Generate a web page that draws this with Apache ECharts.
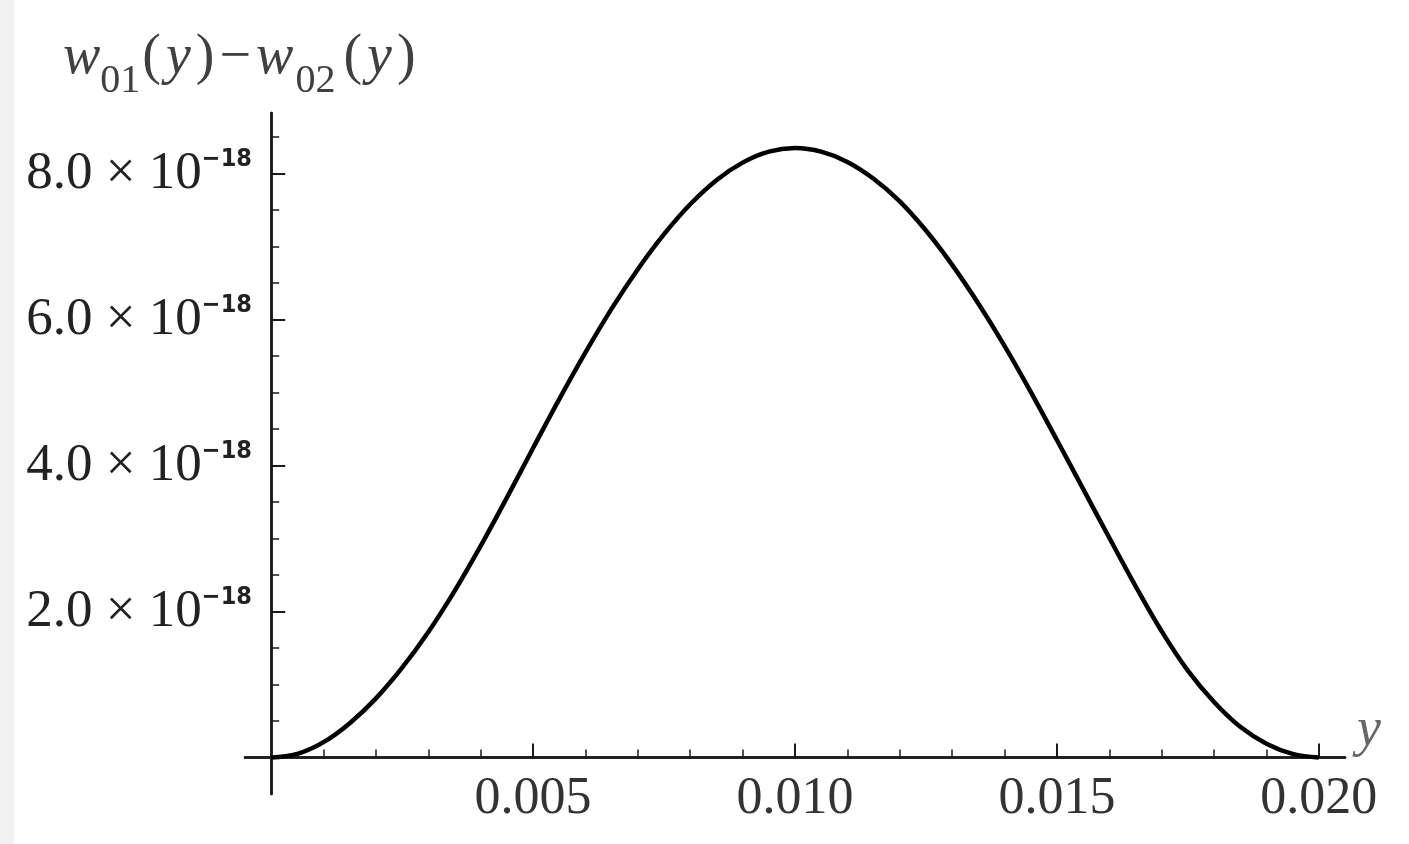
<!DOCTYPE html>
<html>
<head>
<meta charset="utf-8">
<script src="https://cdn.jsdelivr.net/npm/echarts@6/dist/echarts.min.js"></script>
<style>
  html, body { margin: 0; padding: 0; background: #ffffff; }
  #chart { width: 1409px; height: 844px; }
</style>
</head>
<body>
<div id="chart"></div>
<script>
// y values (abscissa) and w01(y) - w02(y) in units of 1e-18
const yArgs = [0, 0.0005, 0.001, 0.0015, 0.002, 0.0025, 0.003, 0.0035, 0.004, 0.0045,
  0.005, 0.0055, 0.006, 0.0065, 0.007, 0.0075, 0.008, 0.0085, 0.009, 0.0095,
  0.010, 0.0105, 0.011, 0.0115, 0.012, 0.0125, 0.013, 0.0135, 0.014, 0.0145,
  0.015, 0.0155, 0.016, 0.0165, 0.017, 0.0175, 0.018, 0.0185, 0.019, 0.0195, 0.020];
const wDiffE18 = [0, 0.05, 0.21, 0.47, 0.81, 1.23, 1.72, 2.28, 2.90, 3.56,
  4.24, 4.91, 5.55, 6.15, 6.69, 7.17, 7.58, 7.91, 8.15, 8.30,
  8.35, 8.30, 8.16, 7.93, 7.62, 7.22, 6.75, 6.22, 5.64, 5.01,
  4.35, 3.68, 3.01, 2.35, 1.73, 1.19, 0.76, 0.42, 0.19, 0.05, 0];

const xMajorTicks = [0.005, 0.010, 0.015, 0.020];
const xMinorTicks = [0.001, 0.002, 0.003, 0.004, 0.006, 0.007, 0.008, 0.009,
  0.011, 0.012, 0.013, 0.014, 0.016, 0.017, 0.018, 0.019];
const yMajorTicks = [2, 4, 6, 8];
const yMinorTicks = [0.5, 1, 1.5, 2.5, 3, 3.5, 4.5, 5, 5.5, 6.5, 7, 7.5, 8.5];

const xRange = [-0.0005, 0.0205];
const yRange = [-0.5, 8.83];

const seriesData = yArgs.map((v, i) => [v, wDiffE18[i]]);

const AXIS_COLOR = '#1a1a1a';
const TITLE_COLOR = '#404040';
const chart = echarts.init(document.getElementById('chart'), null, { renderer: 'canvas' });

const serif = 'Liberation Serif';
chart.setOption({
  backgroundColor: '#ffffff',
  animation: false,
  graphic: [{
    type: 'rect', left: 0, top: 0, shape: { width: 14, height: 844 },
    style: { fill: '#f2f2f2' }, silent: true, z: -10
  }],
  title: {
    left: 58, top: 25, padding: 5,
    text: '{i|w}{s1|01}{r|(}{iy|y}{r|)}{m|−}{i|w}{s2|02}{r|(}{iy|y}{r|)}',
    textStyle: {
      fontWeight: 'normal',
      rich: {
        i: { fontFamily: serif, fontStyle: 'italic', fontWeight: 'normal', fontSize: 56, color: TITLE_COLOR, lineHeight: 56, verticalAlign: 'top' },
        iy: { fontFamily: serif, fontStyle: 'italic', fontWeight: 'normal', fontSize: 56, color: TITLE_COLOR, lineHeight: 56, verticalAlign: 'top', padding: [0, 5, 0, 5] },
        r: { fontFamily: serif, fontWeight: 'normal', fontSize: 56, color: TITLE_COLOR, lineHeight: 56, verticalAlign: 'top' },
        m: { fontFamily: serif, fontWeight: 'normal', fontSize: 56, color: TITLE_COLOR, lineHeight: 56, verticalAlign: 'top', padding: [0, 5, 0, 5] },
        s1: { fontFamily: serif, fontWeight: 'normal', fontSize: 40, color: TITLE_COLOR, lineHeight: 71, verticalAlign: 'bottom', padding: [0, 2, 0, 0] },
        s2: { fontFamily: serif, fontWeight: 'normal', fontSize: 40, color: TITLE_COLOR, lineHeight: 71, verticalAlign: 'bottom', padding: [0, 8, 0, 2] }
      }
    }
  },
  grid: { left: 245, right: 64, top: 113, bottom: 50, containLabel: false, outerBoundsMode: 'none' },
  xAxis: [{
    type: 'value', min: xRange[0], max: xRange[1], position: 'bottom',
    splitLine: { show: false },
    axisLine: { show: true, onZero: true, lineStyle: { color: AXIS_COLOR, width: 2.5 } },
    axisTick: { show: true, inside: true, length: 14, customValues: xMajorTicks, lineStyle: { color: AXIS_COLOR, width: 2 } },
    axisLabel: {
      show: true, customValues: xMajorTicks, margin: -21,
      fontFamily: serif, fontSize: 52, color: '#333333',
      formatter: v => v.toFixed(3)
    },
    name: 'y', nameLocation: 'end', nameGap: 12,
    nameTextStyle: { fontFamily: serif, fontStyle: 'italic', fontSize: 54, color: '#666666', verticalAlign: 'bottom', padding: [0, 0, 0, 0] }
  }, {
    type: 'value', min: xRange[0], max: xRange[1], position: 'top',
    splitLine: { show: false },
    axisLine: { show: true, onZero: true, lineStyle: { color: AXIS_COLOR, width: 2.5 } },
    axisTick: { show: true, inside: false, length: 8, customValues: xMinorTicks, lineStyle: { color: AXIS_COLOR, width: 1.5 } },
    axisLabel: { show: false }
  }],
  yAxis: [{
    type: 'value', min: yRange[0], max: yRange[1], position: 'left',
    splitLine: { show: false },
    axisLine: { show: true, onZero: true, lineStyle: { color: AXIS_COLOR, width: 2.5 } },
    axisTick: { show: true, inside: true, length: 14, customValues: yMajorTicks, lineStyle: { color: AXIS_COLOR, width: 2 } },
    axisLabel: {
      show: true, customValues: yMajorTicks, margin: -7,
      formatter: v => '{m|' + v.toFixed(1) + ' × 10}{s|−18}',
      rich: {
        m: { fontFamily: serif, fontSize: 53, color: '#222222', lineHeight: 54, verticalAlign: 'bottom' },
        s: { fontFamily: 'DejaVu Sans Condensed', fontWeight: 'bold', fontSize: 25, color: '#222222', lineHeight: 26, verticalAlign: 'top' }
      }
    }
  }, {
    type: 'value', min: yRange[0], max: yRange[1], position: 'right',
    splitLine: { show: false },
    axisLine: { show: true, onZero: true, lineStyle: { color: AXIS_COLOR, width: 2.5 } },
    axisTick: { show: true, inside: false, length: 8, customValues: yMinorTicks, lineStyle: { color: AXIS_COLOR, width: 1.5 } },
    axisLabel: { show: false }
  }],
  series: [{
    type: 'line', xAxisIndex: 0, yAxisIndex: 0,
    data: seriesData, showSymbol: false, smooth: 0.4,
    lineStyle: { color: '#000000', width: 4.5 },
    z: 5
  }]
});
</script>
</body>
</html>
